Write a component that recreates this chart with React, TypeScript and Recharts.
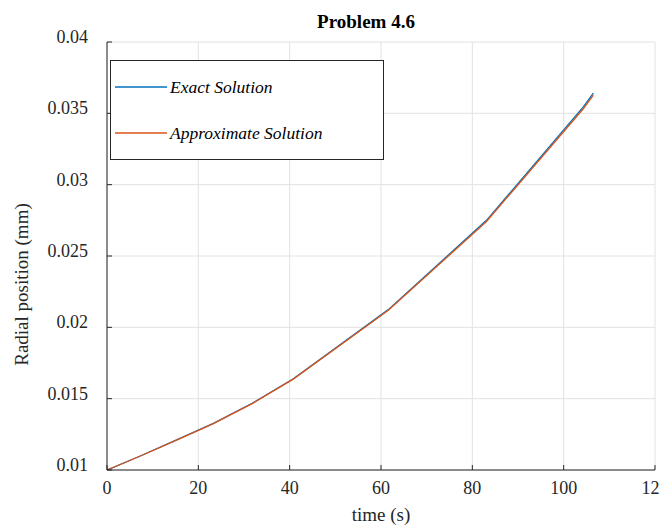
import React from "react";
import {
  LineChart,
  Line,
  XAxis,
  YAxis,
  CartesianGrid,
  Legend,
} from "recharts";

const timeS = [0, 7.3, 14.5, 23.3, 32, 40.8, 61.6, 83.1, 104.3, 106.5];
const exactMm = [0.01, 0.01098, 0.012, 0.01327, 0.01471, 0.0164, 0.02124, 0.0275, 0.03545, 0.03642];
const approxMm = [0.01, 0.01098, 0.01199, 0.01325, 0.01469, 0.01637, 0.02119, 0.02742, 0.03532, 0.03628];

const xTicks = [0, 20, 40, 60, 80, 100, 120];
const yTicks = [0.01, 0.015, 0.02, 0.025, 0.03, 0.035, 0.04];

const seriesNames = ["Exact Solution", "Approximate Solution"];
const BLUE = "#0072BD";
const ORANGE = "#D95319";
const INK = "#262626";
const FONT = '"Liberation Serif", "Times New Roman", serif';

const data = timeS.map((t, i) => ({ t, exact: exactMm[i], approx: approxMm[i] }));

const TICK_LEN = 5;

const BottomTick = (props: any) => {
  const { x, y, payload } = props;
  return (
    <g>
      <line x1={x} y1={y} x2={x} y2={y - TICK_LEN} stroke={INK} />
      <text x={x} y={y + 24} textAnchor="middle" fontFamily={FONT} fontSize={18} fill={INK}>
        {payload.value}
      </text>
    </g>
  );
};

const TopTick = (props: any) => {
  const { x, y } = props;
  return <line x1={x} y1={y} x2={x} y2={y + TICK_LEN} stroke={INK} />;
};

const LeftTick = (props: any) => {
  const { x, y, payload } = props;
  return (
    <g>
      <line x1={x} y1={y} x2={x + TICK_LEN} y2={y} stroke={INK} />
      <text x={x - 19} y={y + 1} textAnchor="end" fontFamily={FONT} fontSize={18} fill={INK}>
        {payload.value}
      </text>
    </g>
  );
};

const RightTick = (props: any) => {
  const { x, y } = props;
  return <line x1={x} y1={y} x2={x - TICK_LEN} y2={y} stroke={INK} />;
};

function LegendBox() {
  const colors = [BLUE, ORANGE];
  return (
    <div
      style={{
        position: "relative",
        width: 274,
        height: 100,
        border: `1px solid ${INK}`,
        background: "#fff",
        boxSizing: "border-box",
      }}
    >
      {seriesNames.map((name, i) => (
        <div key={name} style={{ position: "absolute", left: 4, top: 14 + i * 46, display: "flex", alignItems: "center" }}>
          <svg width={52} height={4} style={{ display: "block" }}>
            <line x1={0} y1={2} x2={52} y2={2} stroke={colors[i]} strokeWidth={1.3} />
          </svg>
          <span
            style={{
              marginLeft: 3,
              fontFamily: FONT,
              fontStyle: "italic",
              fontSize: 17.5,
              lineHeight: "24px",
              color: "#000",
              whiteSpace: "nowrap",
            }}
          >
            {name}
          </span>
        </div>
      ))}
    </div>
  );
}

export default function App() {
  return (
    <div style={{ position: "relative", width: 668, height: 529, margin: "-8px 0 0 -8px", background: "#fff" }}>
      <LineChart width={668} height={529} data={data} margin={{ top: 42, right: 13, bottom: 0, left: 0 }}>
        <CartesianGrid stroke="#e2e2e2" strokeWidth={1} />
        <XAxis
          dataKey="t"
          type="number"
          domain={[0, 120]}
          ticks={xTicks}
          height={59}
          tickSize={0}
          tickMargin={0}
          tick={<BottomTick />}
          axisLine={{ stroke: INK }}
          interval={0}
        />
        <XAxis
          xAxisId="top"
          orientation="top"
          dataKey="t"
          type="number"
          domain={[0, 120]}
          ticks={xTicks}
          height={0}
          tickSize={0}
          tickMargin={0}
          tick={<TopTick />}
          axisLine={{ stroke: INK }}
          interval={0}
        />
        <YAxis
          type="number"
          domain={[0.01, 0.04]}
          ticks={yTicks}
          width={107}
          tickSize={0}
          tickMargin={0}
          tick={<LeftTick />}
          axisLine={{ stroke: INK }}
          allowDataOverflow
          interval={0}
        />
        <YAxis
          yAxisId="right"
          orientation="right"
          type="number"
          domain={[0.01, 0.04]}
          ticks={yTicks}
          width={0}
          tickSize={0}
          tickMargin={0}
          tick={<RightTick />}
          axisLine={{ stroke: INK }}
          allowDataOverflow
          interval={0}
        />
        <Legend
          layout="vertical"
          align="center"
          verticalAlign="middle"
          content={() => <LegendBox />}
          wrapperStyle={{ left: 110, top: 60, width: 274, height: 100 }}
        />
        <Line
          type="linear"
          dataKey="exact"
          name={seriesNames[0]}
          stroke={BLUE}
          strokeWidth={1.3}
          dot={false}
          isAnimationActive={false}
        />
        <Line
          type="linear"
          dataKey="approx"
          name={seriesNames[1]}
          stroke={ORANGE}
          strokeWidth={1.3}
          dot={false}
          isAnimationActive={false}
        />
      </LineChart>
      <div
        style={{
          position: "absolute",
          left: 266,
          top: 12,
          width: 200,
          textAlign: "center",
          fontFamily: FONT,
          fontWeight: "bold",
          fontSize: 19,
          lineHeight: "19px",
          color: "#000",
        }}
      >
        Problem 4.6
      </div>
      <div
        style={{
          position: "absolute",
          left: 281,
          top: 505,
          width: 200,
          textAlign: "center",
          fontFamily: FONT,
          fontSize: 19,
          lineHeight: "19px",
          color: INK,
        }}
      >
        time (s)
      </div>
      <div
        style={{
          position: "absolute",
          left: 21 - 120,
          top: 284 - 9.5,
          width: 240,
          textAlign: "center",
          fontFamily: FONT,
          fontSize: 19,
          lineHeight: "19px",
          color: INK,
          transform: "rotate(-90deg)",
          whiteSpace: "nowrap",
        }}
      >
        Radial position (mm)
      </div>
    </div>
  );
}
